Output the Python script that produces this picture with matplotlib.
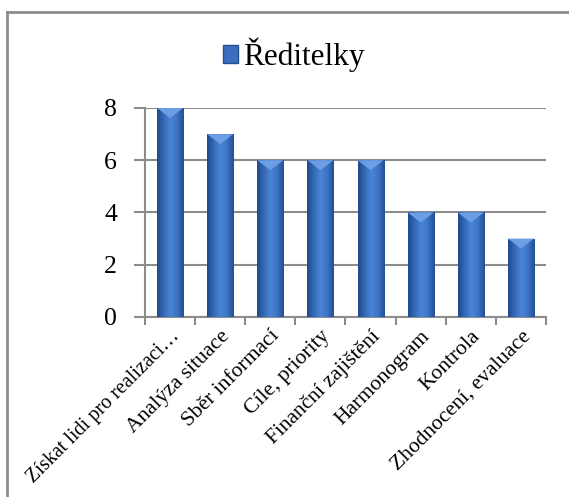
import matplotlib
matplotlib.use('Agg')
import matplotlib.pyplot as plt
import numpy as np
from matplotlib.patches import Rectangle, Polygon
from matplotlib.colors import LinearSegmentedColormap

categories = ['Získat lidi pro realizaci…', 'Analýza situace', 'Sběr informací',
              'Cíle, priority', 'Finanční zajištění', 'Harmonogram', 'Kontrola',
              'Zhodnocení, evaluace']
values = [8, 7, 6, 6, 6, 4, 4, 3]
series_name = 'Ředitelky'
y_ticks = [0, 2, 4, 6, 8]

plt.rcParams['font.family'] = ['Liberation Serif', 'DejaVu Serif']

fig = plt.figure(figsize=(5.69, 4.97), dpi=100)
ax = fig.add_axes([0.2548, 0.3622, 0.9596 - 0.2548, 0.7827 - 0.3622])

# outer chart border (left and top only visible)
fig.add_artist(plt.Line2D([0.0123, 0.0123], [0, 0.976], transform=fig.transFigure,
                          color='#8c8c8c', lw=2))
fig.add_artist(plt.Line2D([0.0123, 1.0], [0.976, 0.976], transform=fig.transFigure,
                          color='#8c8c8c', lw=2))

x = np.arange(len(categories))
bars = ax.bar(x, values, width=0.52, color='#3a6fc0', zorder=3)

cmap = LinearSegmentedColormap.from_list('bar', ['#1f4a8a', '#3569b8', '#4a86d6',
                                                   '#3d74c6', '#234f90'])
grad = np.linspace(0, 1, 64).reshape(1, -1)
for b in bars:
    x0, w, h = b.get_x(), b.get_width(), b.get_height()
    b.set_facecolor('none')
    b.set_edgecolor('none')
    im = ax.imshow(grad, cmap=cmap, aspect='auto', extent=[x0, x0 + w, 0, h],
                   zorder=3, interpolation='bicubic')
    clip = Rectangle((x0, 0), w, h, transform=ax.transData)
    im.set_clip_path(clip)
    tri = Polygon([[x0, h], [x0 + w, h], [x0 + w / 2, h - 0.38]], closed=True,
                  facecolor='#6b9ee3', edgecolor='none', zorder=4)
    ax.add_patch(tri)

ax.set_xlim(-0.5, len(categories) - 0.5)
ax.set_ylim(0, 8)
ax.set_yticks(y_ticks)
ax.set_yticklabels([str(t) for t in y_ticks], fontsize=18.5)
ax.yaxis.grid(True, color='#8c8c8c', lw=1.5, zorder=0)
ax.set_axisbelow(True)

ax.set_xticks(x)
ax.set_xticklabels(categories, rotation=45, ha='right', rotation_mode='anchor',
                   fontsize=15.5)
ax.get_xticklabels()[0].set_fontsize(14.5)
ax.tick_params(axis='x', length=0, pad=7)
ax.set_xticks(np.arange(-0.5, len(categories)), minor=True)
ax.tick_params(axis='x', which='minor', length=6, color='#8c8c8c', width=1.5)
ax.tick_params(axis='y', length=8, color='#8c8c8c', width=1.5, pad=12)

for s in ['top', 'right']:
    ax.spines[s].set_visible(False)
for s in ['left', 'bottom']:
    ax.spines[s].set_color('#8c8c8c')
    ax.spines[s].set_linewidth(1.5)

handle = Rectangle((0, 0), 1, 1, facecolor='#3a6fc0', edgecolor='#234f90')
fig.legend([handle], [series_name], loc='center', bbox_to_anchor=(0.516, 0.889),
           frameon=False, fontsize=22.5, handlelength=0.5, handleheight=0.5,
           handletextpad=0.15)

fig.savefig('out.png', dpi=100)
